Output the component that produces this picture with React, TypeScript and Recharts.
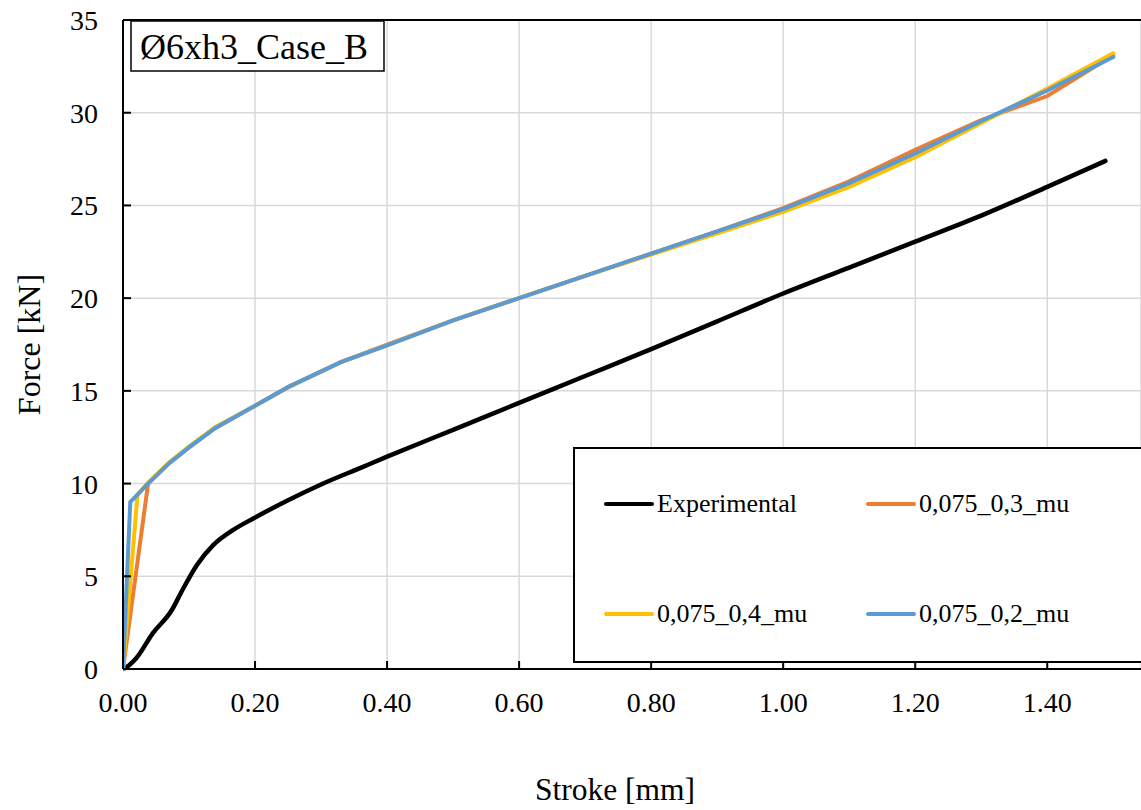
import React from 'react';
import {
  LineChart, Line, XAxis, YAxis, CartesianGrid, Legend, ReferenceLine, Customized,
} from 'recharts';

// Stroke [mm] / Force [kN]
const strokeExp = [0, 0.003, 0.02, 0.045, 0.074, 0.09, 0.112, 0.137, 0.167, 0.198, 0.25, 0.3, 0.36, 0.4, 0.5, 0.6, 0.7, 0.8, 0.9, 1.0, 1.1, 1.2, 1.3, 1.4, 1.488];
const forceExp = [0, 0.05, 0.58, 1.92, 3.18, 4.26, 5.61, 6.69, 7.5, 8.13, 9.1, 9.95, 10.85, 11.45, 12.9, 14.35, 15.8, 17.25, 18.75, 20.25, 21.65, 23.05, 24.45, 26.0, 27.4];

const strokeMu03 = [0, 0.038, 0.07, 0.1, 0.14, 0.2, 0.25, 0.33, 0.4, 0.5, 0.6, 0.7, 0.8, 0.9, 1.0, 1.1, 1.2, 1.3, 1.4, 1.5];
const forceMu03 = [0, 10.0, 11.1, 11.95, 13.0, 14.2, 15.2, 16.55, 17.5, 18.8, 20.0, 21.2, 22.4, 23.6, 24.85, 26.3, 28.0, 29.6, 30.9, 33.1];

const strokeMu04 = [0, 0.022, 0.038, 0.07, 0.1, 0.14, 0.2, 0.25, 0.33, 0.4, 0.5, 0.6, 0.7, 0.8, 0.9, 1.0, 1.1, 1.2, 1.3, 1.4, 1.5];
const forceMu04 = [0, 9.4, 10.05, 11.15, 12.0, 13.05, 14.2, 15.2, 16.55, 17.45, 18.8, 20.0, 21.2, 22.35, 23.5, 24.65, 26.0, 27.6, 29.45, 31.3, 33.2];

const strokeMu02 = [0, 0.011, 0.038, 0.07, 0.1, 0.14, 0.2, 0.25, 0.33, 0.4, 0.5, 0.6, 0.7, 0.8, 0.9, 1.0, 1.1, 1.2, 1.3, 1.4, 1.5];
const forceMu02 = [0, 9.0, 10.0, 11.1, 11.95, 13.0, 14.2, 15.2, 16.55, 17.45, 18.8, 20.0, 21.2, 22.4, 23.6, 24.8, 26.2, 27.8, 29.55, 31.2, 33.0];

const seriesNames = ['Experimental', '0,075_0,3_mu', '0,075_0,4_mu', '0,075_0,2_mu'];
const xTicks = [0, 0.2, 0.4, 0.6, 0.8, 1.0, 1.2, 1.4];
const yTicks = [0, 5, 10, 15, 20, 25, 30, 35];

const toRows = (s: number[], f: number[]) => s.map((v, i) => ({ s: v, f: f[i] }));

const FONT = '"Liberation Serif", "Times New Roman", serif';

const XTick = (props: any) => {
  const { x, y, payload } = props;
  const axisY = y - 23;
  return (
    <g>
      <line x1={x} x2={x} y1={axisY} y2={axisY - 8} stroke="#000" strokeWidth={2} />
      <text x={x} y={y} dy="0.71em" textAnchor="middle" fontFamily={FONT} fontSize={28} fill="#000">
        {payload.value.toFixed(2)}
      </text>
    </g>
  );
};

const YTick = (props: any) => {
  const { x, y, payload } = props;
  const axisX = x + 25;
  return (
    <g>
      <line x1={axisX} x2={axisX + 8} y1={y} y2={y} stroke="#000" strokeWidth={2} />
      <text x={x} y={y} dy="0.355em" textAnchor="end" fontFamily={FONT} fontSize={28} fill="#000">
        {payload.value}
      </text>
    </g>
  );
};

const LegendBox = (props: any) => {
  const raw = props.payload || [];
  const items = seriesNames
    .map((n) => raw.find((it: any) => it.value === n))
    .filter(Boolean);
  return (
    <div style={{
      width: 600, height: 216, background: '#fff', border: '2px solid #000', boxSizing: 'border-box',
      position: 'relative', fontFamily: FONT, fontSize: 26,
    }}>
      {items.map((it: any, i: number) => {
        const col = i % 2;
        const row = Math.floor(i / 2);
        return (
          <div key={it.value} style={{
            position: 'absolute', left: 29 + col * 262, top: 38 + row * 110,
            display: 'flex', alignItems: 'center', height: 34, whiteSpace: 'nowrap',
          }}>
            <span style={{
              display: 'inline-block', width: 50, height: 4, background: it.color,
              borderRadius: 2, marginRight: 3,
            }} />
            <span>{it.value}</span>
          </div>
        );
      })}
    </div>
  );
};

const TitleBox = () => (
  <g>
    <rect x={131} y={21} width={253} height={50} fill="#fff" stroke="#000" strokeWidth={1.5} />
    <text x={140} y={59} fontFamily={FONT} fontSize={36} fill="#000">Ø6xh3_Case_B</text>
  </g>
);

export default function App() {
  return (
    <div style={{ position: 'absolute', left: 0, top: 0, width: 1141, height: 810, background: '#fff' }}>
      <LineChart width={1141} height={810} margin={{ top: 20, right: 0, left: 0, bottom: 0 }}>
        <CartesianGrid stroke="#d9d9d9" strokeWidth={1.5} />
        <XAxis
          dataKey="s" type="number" domain={[0, 1.542]} ticks={xTicks} allowDataOverflow
          height={141} tickSize={0} tickMargin={23} tick={<XTick />}
          axisLine={{ stroke: '#000', strokeWidth: 2 }}
          label={{
            value: 'Stroke [mm]', position: 'insideBottom', offset: 10, dx: -17,
            style: { fontFamily: FONT, fontSize: 31.5, fill: '#000' },
          }}
        />
        <YAxis
          type="number" domain={[0, 35]} ticks={yTicks} width={123}
          tickSize={0} tickMargin={25} tick={<YTick />}
          axisLine={{ stroke: '#000', strokeWidth: 2 }}
          label={{
            value: 'Force [kN]', angle: -90, position: 'insideLeft', offset: 0,
            content: (p: any) => (
              <text
                x={40} y={p.viewBox.y + p.viewBox.height / 2} transform={`rotate(-90 40 ${p.viewBox.y + p.viewBox.height / 2})`}
                textAnchor="middle" fontFamily={FONT} fontSize={32} fill="#000"
              >
                Force [kN]
              </text>
            ),
          }}
        />
        <ReferenceLine y={35} stroke="#000" strokeWidth={2} />
        <Line data={toRows(strokeExp, forceExp)} dataKey="f" name={seriesNames[0]} type="monotone"
          stroke="#000" strokeWidth={4.5} dot={false} isAnimationActive={false} strokeLinecap="round" />
        <Line data={toRows(strokeMu03, forceMu03)} dataKey="f" name={seriesNames[1]} type="linear"
          stroke="#ED7D31" strokeWidth={4} dot={false} isAnimationActive={false} strokeLinecap="round" />
        <Line data={toRows(strokeMu04, forceMu04)} dataKey="f" name={seriesNames[2]} type="linear"
          stroke="#FFC000" strokeWidth={4} dot={false} isAnimationActive={false} strokeLinecap="round" />
        <Line data={toRows(strokeMu02, forceMu02)} dataKey="f" name={seriesNames[3]} type="linear"
          stroke="#5B9BD5" strokeWidth={4} dot={false} isAnimationActive={false} strokeLinecap="round" />
        <Customized component={TitleBox} />
        <Legend
          layout="horizontal" verticalAlign="middle" align="center"
          wrapperStyle={{ left: 573, top: 447, width: 600, height: 216 }}
          content={<LegendBox />}
        />
      </LineChart>
    </div>
  );
}
